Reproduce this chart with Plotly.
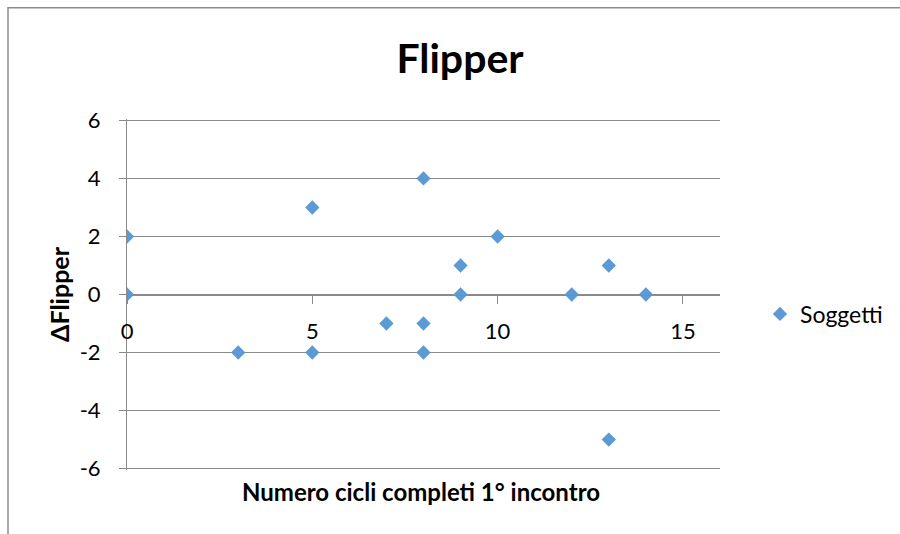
import plotly.graph_objects as go

# Subjects: completed cycles at the first session vs. change in Flipper score
cicli = [0, 0, 3, 5, 5, 7, 8, 8, 8, 9, 9, 10, 12, 13, 13, 14]
delta_flipper = [2, 0, -2, 3, -2, -1, 4, -1, -2, 1, 0, 2, 0, 1, -5, 0]

x_ticks = [0, 5, 10, 15]
y_ticks = [-6, -4, -2, 0, 2, 4, 6]

W, H = 900, 534
ML, MR, MT, MB = 127, 180, 118.5, 63.5
plot_w = W - ML - MR
plot_h = H - MT - MB


def px_x(px):
    """Page pixel column -> paper fraction."""
    return (px - ML) / plot_w


def px_y(py):
    """Page pixel row (from top) -> paper fraction."""
    return (H - MB - py) / plot_h


FONT = "Lato, 'Open Sans', sans-serif"
GRID = "#8a8a8a"
BLUE = "#5b9bd5"

fig = go.Figure(
    go.Scatter(
        x=cicli,
        y=delta_flipper,
        mode="markers",
        name="Soggetti",
        marker=dict(symbol="diamond", size=11, color=BLUE, line=dict(width=0)),
    )
)

fig.update_layout(
    width=W,
    height=H,
    margin=dict(l=ML, r=MR, t=MT, b=MB, pad=0),
    paper_bgcolor="white",
    plot_bgcolor="white",
    font=dict(family=FONT, size=22, color="black"),
    title=dict(
        text="<b>Flipper</b>",
        x=460 / W,
        xref="container",
        xanchor="center",
        y=1 - 59 / H,
        yref="container",
        yanchor="middle",
        font=dict(size=41, family=FONT, color="black"),
    ),
    showlegend=True,
    legend=dict(
        x=px_x(760),
        xanchor="left",
        y=px_y(314),
        yanchor="middle",
        font=dict(size=23, family=FONT),
        itemwidth=30,
        bgcolor="rgba(0,0,0,0)",
    ),
    xaxis=dict(
        range=[0, 16],
        tickvals=x_ticks,
        ticktext=[str(v) for v in x_ticks],
        showgrid=False,
        zeroline=False,
        showline=True,
        linecolor=GRID,
        linewidth=1,
        anchor="free",
        position=0.5,
        ticks="outside",
        ticklen=8,
        tickcolor=GRID,
        ticklabelstandoff=9,
        tickfont=dict(size=22),
    ),
    yaxis=dict(
        range=[-6.05, 6.05],
        tickvals=y_ticks,
        ticktext=[str(v) for v in y_ticks],
        showgrid=True,
        gridcolor=GRID,
        gridwidth=1,
        zeroline=False,
        showline=True,
        linecolor=GRID,
        linewidth=1,
        ticks="outside",
        ticklen=7,
        tickcolor=GRID,
        ticklabelstandoff=14,
        tickfont=dict(size=22),
    ),
    annotations=[
        dict(
            text="<b>Numero cicli completi 1° incontro</b>",
            xref="paper",
            x=px_x(421),
            xanchor="center",
            yref="paper",
            y=px_y(492),
            yanchor="middle",
            showarrow=False,
            font=dict(size=24, family=FONT),
        ),
        dict(
            text="<b>ΔFlipper</b>",
            xref="paper",
            x=px_x(59),
            xanchor="center",
            yref="paper",
            y=px_y(294),
            yanchor="middle",
            textangle=-90,
            showarrow=False,
            font=dict(size=25, family=FONT),
        ),
    ],
    shapes=[
        # outer chart frame (runs past the page on the right and bottom)
        dict(
            type="rect",
            xref="paper",
            yref="paper",
            x0=px_x(8),
            x1=px_x(W + 20),
            y0=px_y(H + 20),
            y1=px_y(7),
            line=dict(color="#8c8c8c", width=1.5),
            layer="below",
        )
    ],
)

fig.write_html("out.html")
